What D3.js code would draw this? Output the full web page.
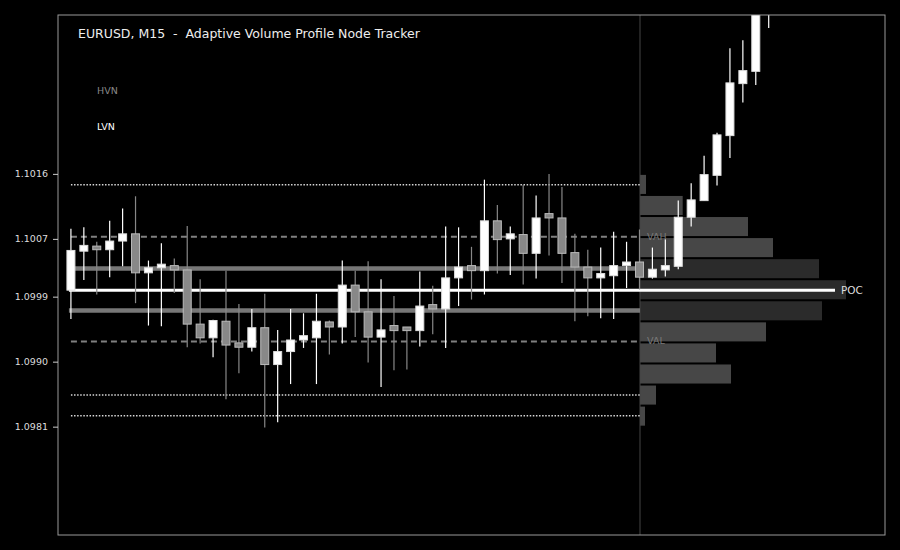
<!DOCTYPE html>
<html><head><meta charset="utf-8">
<script src="https://cdn.jsdelivr.net/npm/d3@7"></script>
<style>body{margin:0;background:#000}svg{display:block}</style>
</head><body><svg id="c" width="900" height="550"></svg>
<script>
// ---- data ----
const open = [1.09999,1.10053,1.10060,1.10055,1.10067,1.10077,1.10023,1.10030,1.10033,1.10027,
1.09952,1.09933,1.09956,1.09926,1.09920,1.09947,1.09896,1.09914,1.09930,1.09933,
1.09955,1.09948,1.10006,1.09969,1.09934,1.09950,1.09948,1.09943,1.09979,1.09973,
1.10016,1.10033,1.10026,1.10095,1.10070,1.10076,1.10050,1.10105,1.10099,1.10051,
1.10031,1.10016,1.10019,1.10033,1.10038,1.10017,1.10027,1.10032,1.10100,1.10123,
1.10158,1.10213,1.10285,1.10302,1.10398];
const close = [1.10054,1.10061,1.10055,1.10067,1.10077,1.10023,1.10030,1.10035,1.10027,1.09952,
1.09933,1.09957,1.09923,1.09920,1.09947,1.09896,1.09914,1.09930,1.09936,1.09956,
1.09948,1.10006,1.09969,1.09934,1.09944,1.09943,1.09943,1.09977,1.09973,1.10016,
1.10031,1.10026,1.10095,1.10069,1.10077,1.10050,1.10099,1.10099,1.10050,1.10031,
1.10016,1.10022,1.10033,1.10038,1.10017,1.10028,1.10033,1.10100,1.10124,1.10159,
1.10214,1.10286,1.10303,1.10395,1.10430];
const high = [1.10084,1.10086,1.10066,1.10095,1.10112,1.10129,1.10040,1.10064,1.10043,1.10088,
1.10014,1.09958,1.10026,1.09980,1.09973,1.09994,1.09944,1.09973,1.09967,1.09994,
1.09957,1.10040,1.10026,1.10039,1.10014,1.09991,1.09948,1.10025,1.10005,1.10087,
1.10086,1.10059,1.10152,1.10117,1.10087,1.10145,1.10130,1.10160,1.10142,1.10077,
1.10055,1.10058,1.10080,1.10066,1.10083,1.10058,1.10069,1.10123,1.10147,1.10185,
1.10217,1.10334,1.10345,1.10415,1.10450];
const low = [1.09959,1.10013,1.09993,1.10017,1.10032,1.09981,1.09950,1.09949,1.09995,1.09920,
1.09925,1.09906,1.09848,1.09884,1.09914,1.09809,1.09816,1.09869,1.09919,1.09869,
1.09910,1.09925,1.09934,1.09899,1.09865,1.09888,1.09889,1.09921,1.09938,1.09919,
1.09977,1.09986,1.09993,1.10022,1.10020,1.10007,1.10015,1.10047,1.10009,1.09956,
1.09963,1.09960,1.09959,1.10002,1.10000,1.10015,1.10018,1.10028,1.10087,1.10123,
1.10144,1.10182,1.10259,1.10283,1.10362];

const yTicks = [1.0981, 1.0990, 1.0999, 1.1007, 1.1016];
const tickLabels = ["1.0981", "1.0990", "1.0999", "1.1007", "1.1016"];

const profileLow = 1.0981, profileHigh = 1.1016;
// volume per price bin, from top bin to bottom bin
const profileVolume = [60, 427, 1080, 1330, 1790, 2060, 1820, 1260, 760, 910, 160, 50];
const hvnBins = [4, 5, 6];

const lvnLevels = [1.10145, 1.09854, 1.09825];
const hvnLevels = [1.10029, 1.09971];
const pocLevel = 1.09999;
const vahLevel = 1.10073, valLevel = 1.09928;

const title = "EURUSD, M15  -  Adaptive Volume Profile Node Tracker";

// ---- layout ----
const L = 58, R = 885, T = 15, B = 535, DIV = 640;
const svg = d3.select("#c");
svg.append("rect").attr("width", 900).attr("height", 550).attr("fill", "#000");

const x = d3.scaleLinear().domain([-1, 63]).range([L, R]);
const y = d3.scaleLinear().domain([1.0966, 1.1038]).range([B, T]);
const xv = d3.scaleLinear().domain([0, d3.max(profileVolume)]).range([DIV, 846]);

svg.append("defs").append("clipPath").attr("id", "plotclip")
  .append("rect").attr("x", L).attr("y", T).attr("width", R - L).attr("height", B - T);

// profile bars
const binH = (profileHigh - profileLow) / profileVolume.length;
svg.append("g").selectAll("rect").data(profileVolume).join("rect")
  .attr("x", DIV)
  .attr("y", (d, i) => y(profileHigh - i * binH) + 1)
  .attr("width", d => xv(d) - DIV)
  .attr("height", (d, i) => y(profileHigh - (i + 1) * binH) - y(profileHigh - i * binH) - 2)
  .attr("fill", (d, i) => hvnBins.includes(i) ? "#2b2b2b" : "#474747");

// divider
svg.append("line").attr("x1", DIV).attr("x2", DIV).attr("y1", T).attr("y2", B)
  .attr("stroke", "#444").attr("stroke-width", 1);

const x0 = x(0);
// LVN dotted
svg.append("g").selectAll("line").data(lvnLevels).join("line")
  .attr("x1", x0).attr("x2", DIV).attr("y1", d => y(d)).attr("y2", d => y(d))
  .attr("stroke", "#d8d8d8").attr("stroke-width", 1.5).attr("stroke-dasharray", "1.5,1.6");
// VAH / VAL dashed
svg.append("g").selectAll("line").data([vahLevel, valLevel]).join("line")
  .attr("x1", x0).attr("x2", DIV).attr("y1", d => y(d)).attr("y2", d => y(d))
  .attr("stroke", "#808080").attr("stroke-width", 2).attr("stroke-dasharray", "6,4");
// HVN thick
svg.append("g").selectAll("line").data(hvnLevels).join("line")
  .attr("x1", x0 - 2).attr("x2", DIV).attr("y1", d => y(d)).attr("y2", d => y(d))
  .attr("stroke", "#777").attr("stroke-width", 4.5);
// POC
svg.append("line").attr("x1", x0 - 2).attr("x2", xv(d3.max(profileVolume)) - 11)
  .attr("y1", y(pocLevel)).attr("y2", y(pocLevel))
  .attr("stroke", "#fff").attr("stroke-width", 3);
svg.append("text").attr("x", 841).attr("y", y(pocLevel)).attr("dy", "0.35em")
  .attr("fill", "#ddd").attr("font-family", "DejaVu Sans").attr("font-size", 10.5).text("POC");
svg.append("g").selectAll("text").data([["VAH", vahLevel], ["VAL", valLevel]]).join("text")
  .attr("x", 647).attr("y", d => y(d[1])).attr("dy", "0.3em")
  .attr("fill", "#7a7a7a").attr("font-family", "DejaVu Sans").attr("font-size", 9.5)
  .text(d => d[0]);

// candles
const candles = open.map((o, i) => ({i, o, h: high[i], l: low[i], c: close[i]}));
const cg = svg.append("g").attr("clip-path", "url(#plotclip)");
const bw = 8;
cg.selectAll("line").data(candles).join("line")
  .attr("x1", d => x(d.i)).attr("x2", d => x(d.i))
  .attr("y1", d => y(d.h)).attr("y2", d => y(d.l))
  .attr("stroke", d => d.c >= d.o ? "#fff" : "#888").attr("stroke-width", 1.2);
cg.selectAll("rect").data(candles).join("rect")
  .attr("x", d => x(d.i) - bw / 2)
  .attr("y", d => y(Math.max(d.o, d.c)))
  .attr("width", bw)
  .attr("height", d => Math.max(1, Math.abs(y(d.o) - y(d.c))))
  .attr("fill", d => d.c >= d.o ? "#fff" : "#888")
  .attr("stroke", d => d.c >= d.o ? "#ddd" : "#bbb").attr("stroke-width", 1);

// frame
svg.append("rect").attr("x", L).attr("y", T).attr("width", R - L).attr("height", B - T)
  .attr("fill", "none").attr("stroke", "#999").attr("stroke-width", 1);

// axis
const ax = svg.append("g").attr("transform", `translate(${L},0)`)
  .call(d3.axisLeft(y).tickValues(yTicks).tickFormat((d, i) => tickLabels[i])
    .tickSize(5).tickPadding(5).tickSizeOuter(0));
ax.select(".domain").remove();
ax.selectAll(".tick line").attr("stroke", "#ccc");
ax.selectAll(".tick text").attr("fill", "#ddd").attr("font-family", "DejaVu Sans").attr("font-size", 9.5);

// title & legend
svg.append("text").attr("x", 78).attr("y", 37.5).attr("fill", "#eee")
  .attr("font-family", "DejaVu Sans").attr("font-size", 12.5)
  .style("white-space", "pre").text(title);
svg.append("text").attr("x", 97).attr("y", 94).attr("fill", "#888")
  .attr("font-family", "DejaVu Sans").attr("font-size", 9.5).text("HVN");
svg.append("text").attr("x", 97).attr("y", 130).attr("fill", "#fff")
  .attr("font-family", "DejaVu Sans").attr("font-size", 9.5).text("LVN");
</script></body></html>
